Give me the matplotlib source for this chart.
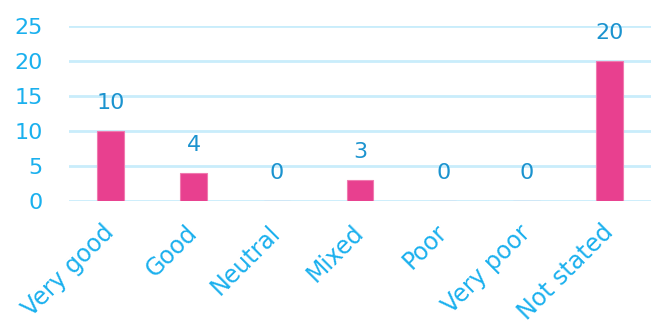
import matplotlib.pyplot as plt

# Ratings and how many responses fell in each
categories = ['Very good', 'Good', 'Neutral', 'Mixed', 'Poor', 'Very poor', 'Not stated']
counts = [10, 4, 0, 3, 0, 0, 20]

bar_color = '#e8408f'
tick_color = '#1ab0ee'
label_color = '#1b93cf'
grid_color = '#c9edfb'

plt.rcParams['font.family'] = ['DejaVu Sans']

fig = plt.figure(figsize=(6.51, 3.33), dpi=100)
ax = fig.add_axes([69 / 651, 1 - 201 / 333, 582 / 651, 175 / 333])

x = range(len(categories))
bars = ax.bar(x, counts, width=0.32, color=bar_color, edgecolor='#f07ab0', linewidth=0.8, zorder=3)

for xi, v in zip(x, counts):
    ax.annotate(str(v), (xi, v), xytext=(0, 13), textcoords='offset points',
                ha='center', va='bottom', fontsize=16, color=label_color)

ax.set_xlim(-0.5, len(categories) - 0.5)
ax.set_ylim(0, 25)
ax.set_yticks([0, 5, 10, 15, 20, 25])
ax.set_xticks(list(x))
ax.set_xticklabels(categories, rotation=45, ha='right', va='center',
                   rotation_mode='anchor', fontsize=17)

ax.tick_params(axis='both', length=0, colors=tick_color)
ax.tick_params(axis='y', pad=19, labelsize=16)
ax.tick_params(axis='x', pad=20)
ax.grid(axis='y', color=grid_color, linewidth=2, zorder=0)
ax.set_axisbelow(True)
for s in ax.spines.values():
    s.set_visible(False)

fig.savefig('out.png', dpi=100)
